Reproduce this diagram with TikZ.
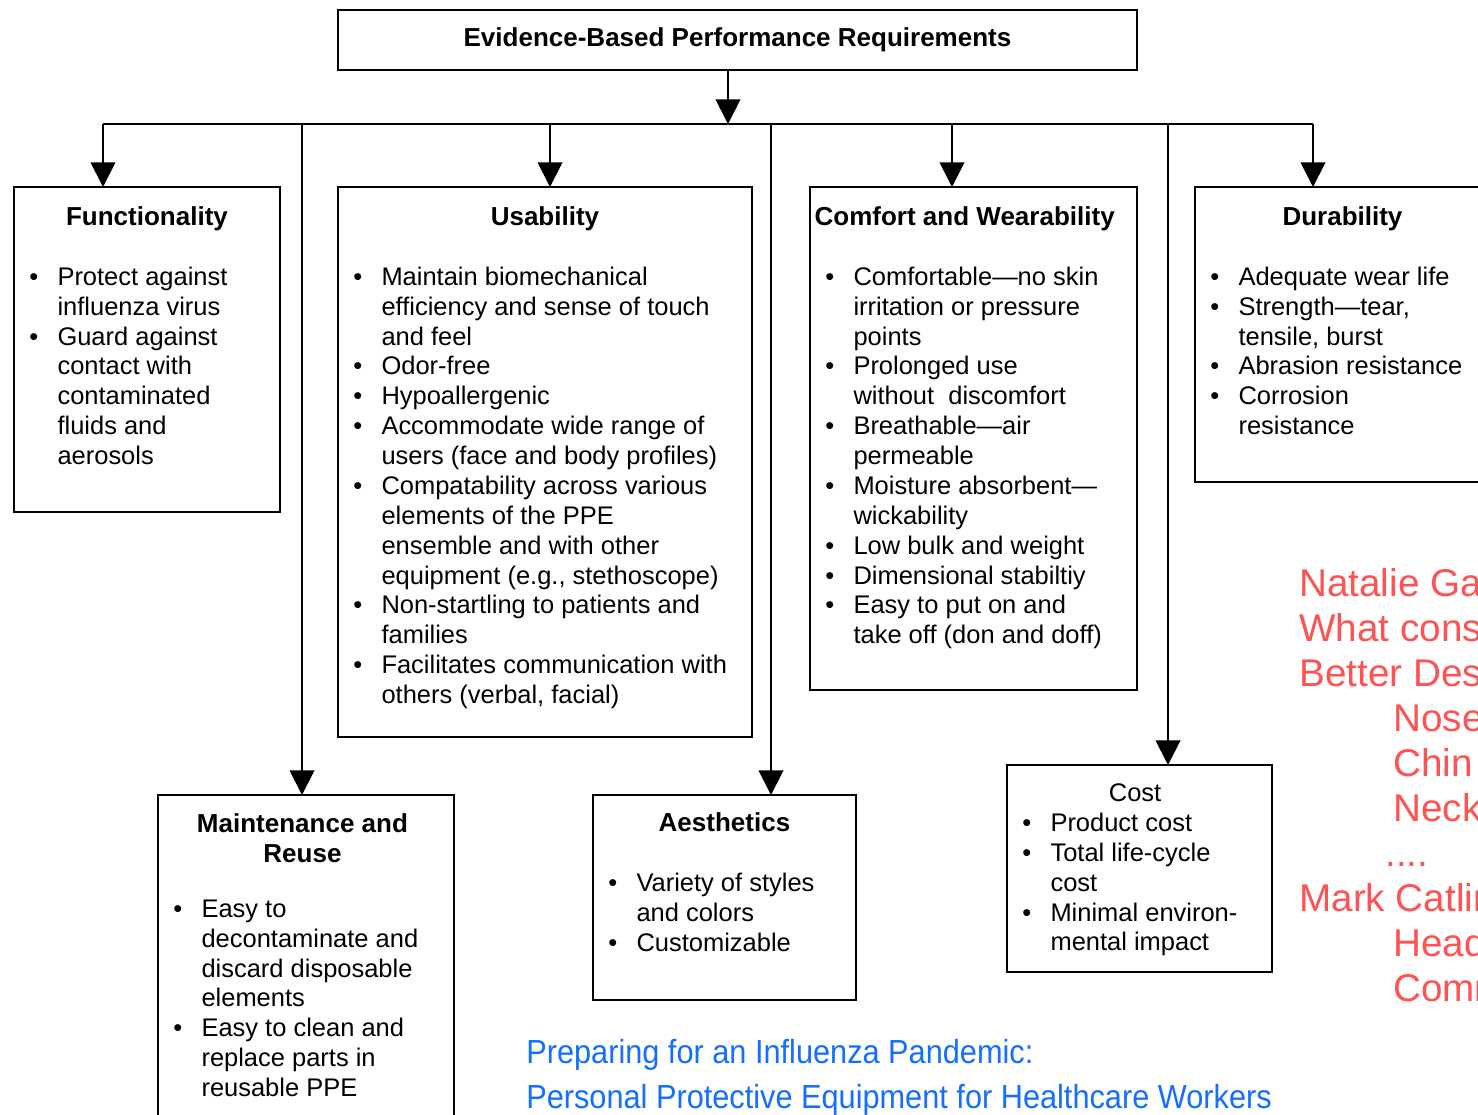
\documentclass[tikz,border=0pt]{standalone}
\usepackage{fontspec}
\setmainfont{Liberation Sans}
\newfontfamily\narrowsf[FakeStretch=0.92]{Liberation Sans}
\usetikzlibrary{arrows.meta}
\definecolor{credit}{RGB}{20,110,255}
\definecolor{author}{RGB}{255,82,82}
\newcommand{\bul}{\textbullet}

\tikzset{
  reqbox/.style={draw,line width=1.1pt,inner sep=0pt,outer sep=0pt,anchor=north west},
  reqhead/.style={font=\fontsize{14.8}{17}\selectfont\bfseries,align=center,inner sep=0pt,anchor=north,execute at begin node=\strut},
  reqlist/.style={font=\fontsize{14.5}{17}\selectfont,inner sep=0pt,anchor=north west},
  feed/.style={line width=1.1pt,-{Triangle[width=14pt,length=14pt]}},
}

\begin{document}
\begin{tikzpicture}[x=0.02cm,y=-0.02cm]
\clip (0,0) rectangle (1478,1115);
% top box
\node[reqbox,anchor=center,minimum width=15.98cm,minimum height=1.2cm,
  font=\fontsize{14.8}{17}\selectfont\bfseries] (top) at (737.5,40) {Evidence-Based Performance Requirements};

% requirement boxes
\node[reqbox,minimum width=5.32cm,minimum height=6.5cm] (func) at (14,187) {};
\node[reqbox,minimum width=8.28cm,minimum height=11cm] (usab) at (338,187) {};
\node[reqbox,minimum width=6.54cm,minimum height=10.06cm] (comf) at (810,187) {};
\node[reqbox,minimum width=5.9cm,minimum height=5.9cm] (dura) at (1195,187) {};
\node[reqbox,minimum width=5.92cm,minimum height=6.9cm] (main) at (158,795) {};
\node[reqbox,minimum width=5.26cm,minimum height=4.1cm] (aest) at (593,795) {};
\node[reqbox,minimum width=5.3cm,minimum height=4.14cm] (cost) at (1007,765) {};

% headings
\node[reqhead] (funchd) at ([yshift=-9.7pt]func.north) {Functionality};
\node[reqhead] (usabhd) at ([yshift=-9.7pt]usab.north) {Usability};
\node[reqhead] (comfhd) at ([xshift=-5pt,yshift=-9.7pt]comf.north) {Comfort and Wearability};
\node[reqhead] (durahd) at ([yshift=-9.7pt]dura.north) {Durability};
\node[reqhead] (mainhd) at ([xshift=-2pt,yshift=-10.3pt]main.north) {Maintenance and\\Reuse};
\node[reqhead] (aesthd) at ([yshift=-8.6pt]aest.north) {Aesthetics};
\node[reqhead,font=\fontsize{14.5}{17}\selectfont] (costhd) at ([xshift=-2.5pt,yshift=-8.6pt]cost.north) {Cost};

% lists
\node[reqlist] (funcls) at ([xshift=8.5pt,yshift=-43.9pt]func.north west) {%
\begin{tabular}{@{}l@{\hspace{11pt}}l@{}}
\bul & Protect against\\ & influenza virus\\
\bul & Guard against\\ & contact with\\ & contaminated\\ & fluids and\\ & aerosols
\end{tabular}};
\node[reqlist] (usabls) at ([xshift=8.5pt,yshift=-43.9pt]usab.north west) {%
\begin{tabular}{@{}l@{\hspace{11pt}}l@{}}
\bul & Maintain biomechanical\\ & efficiency and sense of touch\\ & and feel\\
\bul & Odor-free\\
\bul & Hypoallergenic\\
\bul & Accommodate wide range of\\ & users (face and body profiles)\\
\bul & Compatability across various\\ & elements of the PPE\\ & ensemble and with other\\ & equipment (e.g., stethoscope)\\
\bul & Non-startling to patients and\\ & families\\
\bul & Facilitates communication with\\ & others (verbal, facial)
\end{tabular}};
\node[reqlist] (comfls) at ([xshift=8.5pt,yshift=-43.9pt]comf.north west) {%
\begin{tabular}{@{}l@{\hspace{11pt}}l@{}}
\bul & Comfortable---no skin\\ & irritation or pressure\\ & points\\
\bul & Prolonged use\\ & without\ \ discomfort\\
\bul & Breathable---air\\ & permeable\\
\bul & Moisture absorbent---\\ & wickability\\
\bul & Low bulk and weight\\
\bul & Dimensional stabiltiy\\
\bul & Easy to put on and\\ & take off (don and doff)
\end{tabular}};
\node[reqlist] (durals) at ([xshift=8.5pt,yshift=-43.9pt]dura.north west) {%
\begin{tabular}{@{}l@{\hspace{11pt}}l@{}}
\bul & Adequate wear life\\
\bul & Strength---tear,\\ & tensile, burst\\
\bul & Abrasion resistance\\
\bul & Corrosion\\ & resistance
\end{tabular}};
\node[reqlist] (mainls) at ([xshift=8.5pt,yshift=-57.5pt]main.north west) {%
\begin{tabular}{@{}l@{\hspace{11pt}}l@{}}
\bul & Easy to\\ & decontaminate and\\ & discard disposable\\ & elements\\
\bul & Easy to clean and\\ & replace parts in\\ & reusable PPE
\end{tabular}};
\node[reqlist] (aestls) at ([xshift=8.5pt,yshift=-42.7pt]aest.north west) {%
\begin{tabular}{@{}l@{\hspace{11pt}}l@{}}
\bul & Variety of styles\\ & and colors\\
\bul & Customizable
\end{tabular}};
\node[reqlist] (costls) at ([xshift=8.5pt,yshift=-25.7pt]cost.north west) {%
\begin{tabular}{@{}l@{\hspace{11pt}}l@{}}
\bul & Product cost\\
\bul & Total life-cycle\\ & cost\\
\bul & Minimal environ-\\ & mental impact
\end{tabular}};

% bus and drops
\coordinate (bus) at (728,124);
\coordinate (d1) at (103,124);
\coordinate (d2) at (302,124);
\coordinate (d3) at (550,124);
\coordinate (d4) at (771,124);
\coordinate (d5) at (952,124);
\coordinate (d6) at (1168,124);
\coordinate (d7) at (1313,124);
\draw[feed] (bus |- top.south) -- (bus);
\draw[line width=1.1pt] (d1) -- (d7);
\draw[feed] (d1) -- (d1 |- func.north);
\draw[feed] (d2) -- (d2 |- main.north);
\draw[feed] (d3) -- (d3 |- usab.north);
\draw[feed] (d4) -- (d4 |- aest.north);
\draw[feed] (d5) -- (d5 |- comf.north);
\draw[feed] (d6) -- (d6 |- cost.north);
\draw[feed] (d7) -- (d7 |- dura.north);

% source and notes
\node[anchor=north west,inner sep=0pt,align=left,text=credit,
  font=\narrowsf\fontsize{19}{25.6}\selectfont,execute at begin node=\strut] (source) at (526,1038.5)
  {Preparing for an Influenza Pandemic:\\Personal Protective Equipment for Healthcare Workers};
\node[anchor=north west,inner sep=0pt,align=left,text=author,
  font=\fontsize{22}{25.6}\selectfont,execute at begin node=\strut] (notes) at (1299,568.5)
  {Natalie Gay\\What const\\Better Desi\\\hspace*{53.5pt}Nose\\\hspace*{53.5pt}Chin\\\hspace*{53.5pt}Neck\\
   \hspace*{49pt}....\\Mark Catlin\\\hspace*{53.5pt}Head\\\hspace*{53.5pt}Comm};
\end{tikzpicture}
\end{document}
